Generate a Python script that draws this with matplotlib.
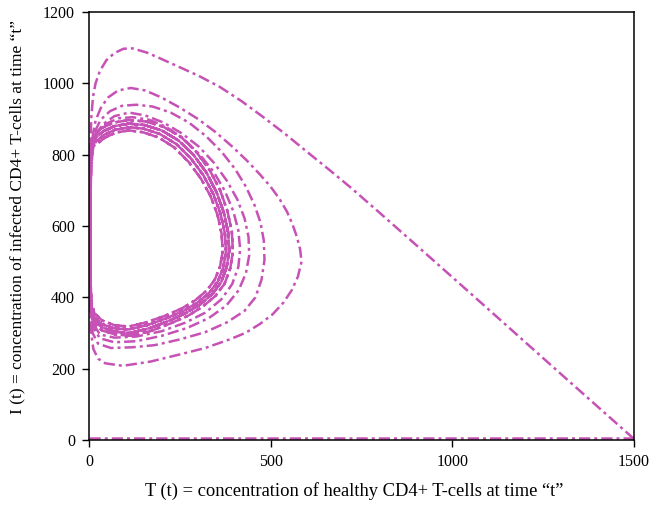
import numpy as np
import matplotlib.pyplot as plt

plt.rcParams['font.family'] = ['Liberation Serif', 'DejaVu Serif']

# healthy (T) / infected (I) CD4+ T-cell trajectory, pieced together pass by pass
pass0_T = [1500, 1300, 1080, 900, 800, 720, 662, 600, 540, 480, 420, 360, 300, 250, 200, 160, 120, 95, 70, 48, 30, 18, 11]
pass0_I = [3, 184, 384, 547, 637, 708, 757, 808, 858, 905, 950, 990, 1022, 1045, 1068, 1086, 1098, 1097, 1085, 1065, 1035, 1000, 962]

ring1_T = [6, 4, 3, 3, 4, 6, 12, 25, 45, 93, 170, 250, 320, 387, 430, 470, 505, 535, 558, 575, 585, 581, 572, 560, 545, 525, 500, 470, 435, 395, 350, 300, 250, 200, 155, 115, 80, 52, 32, 18]
ring1_I = [900, 800, 650, 500, 380, 300, 255, 228, 215, 208, 220, 240, 258, 282, 300, 325, 352, 385, 420, 458, 500, 535, 570, 605, 640, 675, 710, 745, 783, 822, 862, 900, 932, 960, 980, 987, 980, 960, 930, 895]

ring2_T = [10, 5, 3, 3, 5, 10, 25, 60, 120, 181, 250, 319, 380, 428, 458, 475, 483, 481, 472, 455, 432, 402, 365, 322, 275, 225, 175, 130, 91, 58, 32]
ring2_I = [850, 760, 620, 480, 360, 300, 270, 258, 260, 266, 282, 302, 330, 362, 400, 450, 505, 560, 610, 660, 710, 760, 808, 852, 890, 918, 935, 940, 937, 922, 898]

ring3_T = [14, 6, 3, 3, 5, 12, 30, 70, 130, 200, 270, 330, 378, 412, 432, 441, 439, 428, 408, 380, 345, 303, 255, 205, 155, 110, 70, 38]
ring3_I = [860, 760, 620, 480, 370, 315, 285, 274, 277, 292, 314, 342, 377, 420, 468, 518, 570, 622, 675, 726, 776, 822, 860, 890, 910, 918, 908, 885]

ring4_T = [14, 6, 3, 3, 5, 12, 30, 70, 130, 200, 265, 320, 364, 394, 411, 416, 411, 397, 374, 343, 305, 260, 212, 165, 120, 82, 50, 25]
ring4_I = [850, 760, 620, 480, 380, 325, 296, 287, 290, 305, 329, 357, 394, 437, 485, 535, 588, 642, 698, 752, 800, 845, 878, 898, 905, 902, 888, 866]

# settled cycle, four slightly different laps
cycle_out_T = [6, 4, 3, 3, 6, 15, 36, 72, 115, 168, 220, 272, 313, 348, 373, 389, 396, 393, 381, 361, 332, 295, 253, 205, 156, 110, 68, 36, 16]
cycle_out_I = [840, 700, 560, 420, 355, 325, 307, 296, 293, 305, 325, 348, 374, 404, 438, 482, 530, 585, 642, 700, 757, 808, 850, 878, 893, 897, 890, 875, 858]

cycle_mid_T = [5, 3, 2, 3, 6, 15, 35, 70, 112, 165, 215, 265, 306, 340, 364, 379, 386, 383, 371, 351, 323, 287, 246, 200, 153, 110, 70, 40, 18]
cycle_mid_I = [830, 700, 560, 430, 365, 335, 316, 304, 300, 313, 332, 355, 380, 410, 443, 485, 530, 582, 638, 695, 750, 800, 840, 868, 883, 887, 880, 866, 848]

cycle_in_T = [4, 3, 3, 3, 6, 14, 35, 70, 110, 160, 210, 260, 300, 332, 355, 370, 377, 374, 362, 342, 315, 280, 240, 195, 150, 110, 72, 42, 20]
cycle_in_I = [820, 700, 560, 440, 375, 345, 325, 313, 310, 322, 340, 362, 386, 414, 445, 485, 530, 580, 635, 690, 742, 790, 830, 858, 873, 877, 870, 856, 838]

cycle_core_T = [4, 3, 3, 4, 7, 15, 36, 70, 110, 158, 206, 254, 293, 324, 346, 361, 368, 365, 354, 335, 308, 274, 235, 192, 148, 110, 74, 44, 22]
cycle_core_I = [810, 700, 560, 450, 385, 355, 335, 322, 318, 330, 347, 368, 392, 419, 449, 487, 530, 578, 630, 683, 733, 780, 820, 848, 863, 868, 862, 848, 830]

# second series lying on the T axis
floor_T = [0, 1500]
floor_I = [5, 5]

MAGENTA = '#C652B6'
DASH = (0, (4.5, 1.6, 1.2, 1.6))

laps_T = [cycle_out_T, cycle_mid_T, cycle_in_T, cycle_core_T, cycle_mid_T, cycle_out_T,
          cycle_in_T, cycle_mid_T, cycle_core_T, cycle_in_T, cycle_mid_T]
laps_I = [cycle_out_I, cycle_mid_I, cycle_in_I, cycle_core_I, cycle_mid_I, cycle_out_I,
          cycle_in_I, cycle_mid_I, cycle_core_I, cycle_in_I, cycle_mid_I]

traj_T = pass0_T + ring1_T + ring2_T + ring3_T + ring4_T + sum(laps_T, [])
traj_I = pass0_I + ring1_I + ring2_I + ring3_I + ring4_I + sum(laps_I, [])

fig = plt.figure(figsize=(6.5, 5.07), dpi=100)
ax = fig.add_axes([89 / 650, 67 / 507, 545 / 650, 428 / 507])

ax.plot(np.array(traj_T), np.array(traj_I), color=MAGENTA, lw=1.8, linestyle=DASH)
ax.plot(floor_T, floor_I, color=MAGENTA, lw=1.8, linestyle=DASH)

ax.set_xlim(0, 1500)
ax.set_ylim(0, 1200)
ax.set_xticks([0, 500, 1000, 1500])
ax.set_yticks([0, 200, 400, 600, 800, 1000, 1200])
ax.tick_params(direction='out', length=5, width=1, labelsize=11.5, colors='black', pad=5)
for s in ax.spines.values():
    s.set_linewidth(1.1)
    s.set_color('black')

ax.set_xlabel('T (t) = concentration of healthy CD4+ T-cells at time \u201ct\u201d', fontsize=13.3)
ax.set_ylabel('I (t) = concentration of infected CD4+ T-cells at time \u201ct\u201d', fontsize=12.5)
ax.xaxis.set_label_coords(0.486, -0.098)
ax.yaxis.set_label_coords(-0.117, 0.521)

fig.savefig('out.png', dpi=100)
